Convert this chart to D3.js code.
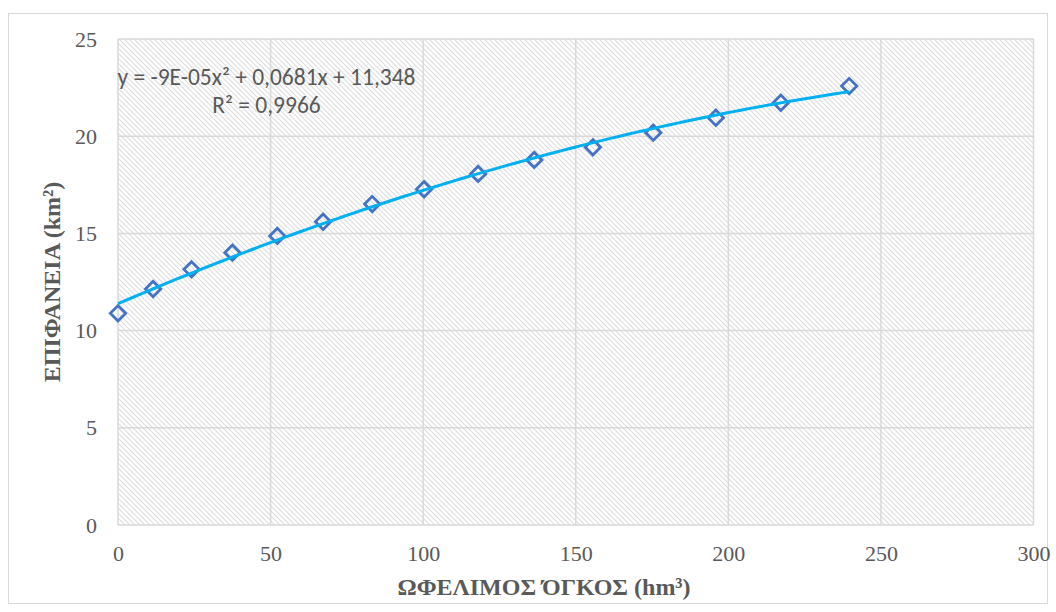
<!DOCTYPE html>
<html>
<head>
<meta charset="utf-8">
<script src="https://cdn.jsdelivr.net/npm/d3@7"></script>
<style>
  html, body { margin: 0; padding: 0; background: #fff; }
  svg { display: block; }
</style>
</head>
<body>
<svg id="chart" width="1056" height="612"></svg>
<script>
// ---- data ----
const volume = [0, 11.5, 24.1, 37.5, 52.2, 67.2, 83.3, 100.3, 118.0, 136.4, 155.6, 175.4, 195.9, 217.2, 239.6];
const area   = [10.89, 12.14, 13.15, 14.01, 14.87, 15.60, 16.51, 17.27, 18.06, 18.78, 19.43, 20.18, 20.95, 21.72, 22.58];
const xTicks = [0, 50, 100, 150, 200, 250, 300];
const yTicks = [0, 5, 10, 15, 20, 25];
const equationText = "y = -9E-05x² + 0,0681x + 11,348";
const r2Text = "R² = 0,9966";
const xTitle = "ΩΦΕΛΙΜΟΣ ΌΓΚΟΣ (hm³)";
const yTitle = "ΕΠΙΦΑΝΕΙΑ (km²)";

(function () {
const svg = d3.select("#chart");
const pLeft = 118, pRight = 1033.5, pTop = 39, pBottom = 525;

const x = d3.scaleLinear().domain([0, 300]).range([pLeft, pRight]);
const y = d3.scaleLinear().domain([0, 25]).range([pBottom, pTop]);

// outer border
svg.append("rect").attr("x", 8.5).attr("y", 13.5).attr("width", 1039).attr("height", 590)
  .attr("fill", "#fff").attr("stroke", "#d9d9d9").attr("stroke-width", 1);

// hatch pattern
const defs = svg.append("defs");
const pat = defs.append("pattern").attr("id", "hatch").attr("patternUnits", "userSpaceOnUse")
  .attr("width", 5).attr("height", 5);
pat.append("rect").attr("width", 5).attr("height", 5).attr("fill", "#fff");
pat.append("path").attr("d", "M-1,-1 L6,6 M-1,4 L1,6 M4,-1 L6,1")
  .attr("stroke", "#dedede").attr("stroke-width", 1.1);

svg.append("rect").attr("x", pLeft).attr("y", pTop).attr("width", pRight - pLeft).attr("height", pBottom - pTop)
  .attr("fill", "url(#hatch)");

// gridlines
const grid = svg.append("g");
grid.append("g").selectAll("line").data(yTicks).join("line")
  .attr("x1", pLeft).attr("x2", pRight).attr("y1", d => y(d)).attr("y2", d => y(d))
  .attr("stroke", "#d9d9d9").attr("stroke-width", 1.5);
grid.append("g").selectAll("line").data(xTicks).join("line")
  .attr("y1", pTop).attr("y2", pBottom).attr("x1", d => x(d)).attr("x2", d => x(d))
  .attr("stroke", "#d9d9d9").attr("stroke-width", 1.5);

// axes (labels only)
const xAxis = svg.append("g").attr("transform", `translate(0,${pBottom})`)
  .call(d3.axisBottom(x).tickValues(xTicks).tickSize(0).tickPadding(18));
const yAxis = svg.append("g").attr("transform", `translate(${pLeft},0)`)
  .call(d3.axisLeft(y).tickValues(yTicks).tickSize(0).tickPadding(21));
[xAxis, yAxis].forEach(a => {
  a.select(".domain").remove();
  a.selectAll("text").attr("font-family", "'Liberation Serif', 'Times New Roman', serif")
    .attr("font-size", 22).attr("fill", "#595959");
});
xAxis.selectAll("text").attr("y", 35.5).attr("dy", 0);

// markers (diamonds)
const pts = volume.map((v, i) => [v, area[i]]);
svg.append("g").selectAll("path").data(pts).join("path")
  .attr("d", d3.symbol(d3.symbolDiamond2, 150))
  .attr("transform", d => `translate(${x(d[0])},${y(d[1])})`)
  .attr("fill", "none").attr("stroke", "#4472c4").attr("stroke-width", 2.8);

// quadratic least-squares trendline computed from the data
function polyfit2(xs, ys) {
  let S = [0,0,0,0,0], T = [0,0,0];
  xs.forEach((xv, i) => {
    let p = 1;
    for (let k = 0; k < 5; k++) { S[k] += p; if (k < 3) T[k] += p * ys[i]; p *= xv; }
  });
  const A = [[S[0],S[1],S[2],T[0]],[S[1],S[2],S[3],T[1]],[S[2],S[3],S[4],T[2]]];
  for (let i = 0; i < 3; i++) {
    for (let j = i + 1; j < 3; j++) {
      const f = A[j][i] / A[i][i];
      for (let k = i; k < 4; k++) A[j][k] -= f * A[i][k];
    }
  }
  const c = [0,0,0];
  for (let i = 2; i >= 0; i--) {
    let s = A[i][3];
    for (let k = i + 1; k < 3; k++) s -= A[i][k] * c[k];
    c[i] = s / A[i][i];
  }
  return c;
}
const c = polyfit2(volume, area);
const xs = d3.range(0, 121).map(i => volume[volume.length - 1] * i / 120);
svg.append("path")
  .datum(xs)
  .attr("d", d3.line().x(d => x(d)).y(d => y(c[0] + c[1] * d + c[2] * d * d)))
  .attr("fill", "none").attr("stroke", "#00b0f0").attr("stroke-width", 3);

// equation labels
const eq = svg.append("g").attr("font-family", "Carlito, 'Open Sans', 'Liberation Sans', sans-serif")
  .attr("fill", "#595959").attr("font-size", 23.5).attr("text-anchor", "middle");
eq.append("text").attr("x", 266.5).attr("y", 85).text(equationText);
eq.append("text").attr("x", 266.5).attr("y", 113).text(r2Text);

// axis titles
svg.append("text").attr("x", 544).attr("y", 595).attr("text-anchor", "middle")
  .attr("font-family", "'Liberation Serif', 'Times New Roman', serif").attr("font-weight", "bold")
  .attr("font-size", 24).attr("fill", "#595959").text(xTitle);
svg.append("text").attr("transform", `translate(60,282) rotate(-90)`)
  .attr("text-anchor", "middle")
  .attr("font-family", "'Liberation Serif', 'Times New Roman', serif").attr("font-weight", "bold")
  .attr("font-size", 24).attr("fill", "#595959").text(yTitle);
})();
</script>
</body>
</html>
